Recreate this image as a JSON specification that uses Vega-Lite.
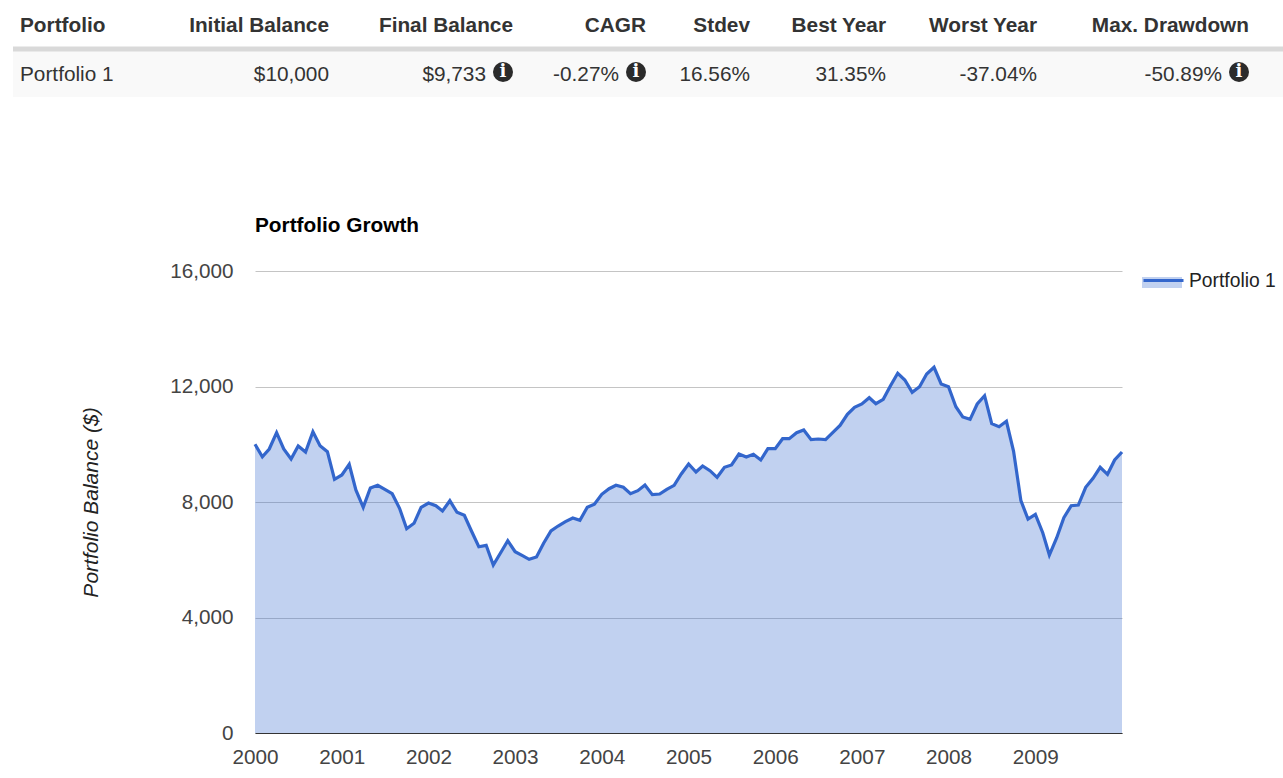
{"$schema":"https://vega.github.io/schema/vega-lite/v6.json","background":"white","padding":{"left":10,"top":0,"right":0,"bottom":0},"config":{"view":{"stroke":null},"font":"Liberation Sans"},"spacing":118,"vconcat":[{"width":1270,"height":97,"data":{"values":[{"row":"Header","col":0,"text":"Portfolio"},{"row":"Header","col":1,"text":"Initial Balance"},{"row":"Header","col":2,"text":"Final Balance"},{"row":"Header","col":3,"text":"CAGR"},{"row":"Header","col":4,"text":"Stdev"},{"row":"Header","col":5,"text":"Best Year"},{"row":"Header","col":6,"text":"Worst Year"},{"row":"Header","col":7,"text":"Max. Drawdown"},{"row":"Portfolio 1","col":0,"text":"Portfolio 1"},{"row":"Portfolio 1","col":1,"text":"$10,000"},{"row":"Portfolio 1","col":2,"text":"$9,733","note":true},{"row":"Portfolio 1","col":3,"text":"-0.27%","note":true},{"row":"Portfolio 1","col":4,"text":"16.56%"},{"row":"Portfolio 1","col":5,"text":"31.35%"},{"row":"Portfolio 1","col":6,"text":"-37.04%"},{"row":"Portfolio 1","col":7,"text":"-50.89%","note":true}]},"encoding":{"y":{"field":"row","type":"nominal","axis":null,"sort":null,"scale":{"domain":["Header","Portfolio 1"],"range":[1,97],"paddingInner":0,"paddingOuter":0}},"x":{"field":"col","type":"quantitative","axis":null,"scale":{"domain":[0,1,2,3,4,5,6,7],"range":[7,316,500,633,737,873,1024,1236]}}},"layer":[{"transform":[{"filter":"datum.row==='Portfolio 1' && datum.col===0"}],"mark":{"type":"rect","color":"#f9f9f9"},"encoding":{"x":{"value":0},"x2":{"value":1270}}},{"transform":[{"filter":"datum.row==='Portfolio 1' && datum.col===0"}],"mark":{"type":"rule","color":"#d9d9d9","strokeWidth":5},"encoding":{"y":{"field":"row","type":"nominal","bandPosition":0},"x":{"value":0},"x2":{"value":1270}}},{"transform":[{"filter":"datum.row==='Header' && datum.col>0"}],"mark":{"type":"text","fontSize":20.8,"fontWeight":"bold","color":"#333333","align":"right","dy":1},"encoding":{"text":{"field":"text"}}},{"transform":[{"filter":"datum.row==='Header' && datum.col===0"}],"mark":{"type":"text","fontSize":20.8,"fontWeight":"bold","color":"#333333","align":"left","dy":1},"encoding":{"text":{"field":"text"}}},{"transform":[{"filter":"datum.row==='Portfolio 1' && datum.col===0"}],"mark":{"type":"text","fontSize":20.8,"color":"#333333","align":"left","dy":2},"encoding":{"text":{"field":"text"}}},{"transform":[{"filter":"datum.row==='Portfolio 1' && datum.col>0 && !datum.note"}],"mark":{"type":"text","fontSize":20.8,"color":"#333333","align":"right","dy":2},"encoding":{"text":{"field":"text"}}},{"transform":[{"filter":"datum.note"}],"mark":{"type":"text","fontSize":20.8,"color":"#333333","align":"right","dy":2,"dx":-27},"encoding":{"text":{"field":"text"}}},{"transform":[{"filter":"datum.note"}],"mark":{"type":"point","shape":"circle","filled":true,"color":"#2b2b2b","opacity":1,"size":400,"xOffset":-10,"yOffset":-1}},{"transform":[{"filter":"datum.note"}],"mark":{"type":"text","text":"i","font":"DejaVu Serif","fontWeight":"bold","fontSize":18,"color":"white","dx":-10,"dy":-1}}]},{"spacing":0,"hconcat":[{"width":67,"height":10,"data":{"values":[]},"mark":{"type":"text"},"encoding":{}},{"width":867,"height":462,"title":{"text":"Portfolio Growth","anchor":"start","frame":"group","fontSize":20.8,"fontWeight":"bold","color":"#000000","offset":23},"data":{"values":[{"date":"2000-01-01T00:00:00","balance":10000,"series":"Portfolio 1"},{"date":"2000-02-01T00:00:00","balance":9569,"series":"Portfolio 1"},{"date":"2000-03-01T00:00:00","balance":9835,"series":"Portfolio 1"},{"date":"2000-04-01T00:00:00","balance":10400,"series":"Portfolio 1"},{"date":"2000-05-01T00:00:00","balance":9835,"series":"Portfolio 1"},{"date":"2000-06-01T00:00:00","balance":9489,"series":"Portfolio 1"},{"date":"2000-07-01T00:00:00","balance":9939,"series":"Portfolio 1"},{"date":"2000-08-01T00:00:00","balance":9732,"series":"Portfolio 1"},{"date":"2000-09-01T00:00:00","balance":10435,"series":"Portfolio 1"},{"date":"2000-10-01T00:00:00","balance":9950,"series":"Portfolio 1"},{"date":"2000-11-01T00:00:00","balance":9742,"series":"Portfolio 1"},{"date":"2000-12-01T00:00:00","balance":8786,"series":"Portfolio 1"},{"date":"2001-01-01T00:00:00","balance":8935,"series":"Portfolio 1"},{"date":"2001-02-01T00:00:00","balance":9306,"series":"Portfolio 1"},{"date":"2001-03-01T00:00:00","balance":8416,"series":"Portfolio 1"},{"date":"2001-04-01T00:00:00","balance":7816,"series":"Portfolio 1"},{"date":"2001-05-01T00:00:00","balance":8485,"series":"Portfolio 1"},{"date":"2001-06-01T00:00:00","balance":8578,"series":"Portfolio 1"},{"date":"2001-07-01T00:00:00","balance":8440,"series":"Portfolio 1"},{"date":"2001-08-01T00:00:00","balance":8287,"series":"Portfolio 1"},{"date":"2001-09-01T00:00:00","balance":7782,"series":"Portfolio 1"},{"date":"2001-10-01T00:00:00","balance":7075,"series":"Portfolio 1"},{"date":"2001-11-01T00:00:00","balance":7262,"series":"Portfolio 1"},{"date":"2001-12-01T00:00:00","balance":7816,"series":"Portfolio 1"},{"date":"2002-01-01T00:00:00","balance":7965,"series":"Portfolio 1"},{"date":"2002-02-01T00:00:00","balance":7872,"series":"Portfolio 1"},{"date":"2002-03-01T00:00:00","balance":7688,"series":"Portfolio 1"},{"date":"2002-04-01T00:00:00","balance":8045,"series":"Portfolio 1"},{"date":"2002-05-01T00:00:00","balance":7643,"series":"Portfolio 1"},{"date":"2002-06-01T00:00:00","balance":7539,"series":"Portfolio 1"},{"date":"2002-07-01T00:00:00","balance":6996,"series":"Portfolio 1"},{"date":"2002-08-01T00:00:00","balance":6452,"series":"Portfolio 1"},{"date":"2002-09-01T00:00:00","balance":6500,"series":"Portfolio 1"},{"date":"2002-10-01T00:00:00","balance":5818,"series":"Portfolio 1"},{"date":"2002-11-01T00:00:00","balance":6244,"series":"Portfolio 1"},{"date":"2002-12-01T00:00:00","balance":6660,"series":"Portfolio 1"},{"date":"2003-01-01T00:00:00","balance":6279,"series":"Portfolio 1"},{"date":"2003-02-01T00:00:00","balance":6140,"series":"Portfolio 1"},{"date":"2003-03-01T00:00:00","balance":6016,"series":"Portfolio 1"},{"date":"2003-04-01T00:00:00","balance":6095,"series":"Portfolio 1"},{"date":"2003-05-01T00:00:00","balance":6570,"series":"Portfolio 1"},{"date":"2003-06-01T00:00:00","balance":7000,"series":"Portfolio 1"},{"date":"2003-07-01T00:00:00","balance":7169,"series":"Portfolio 1"},{"date":"2003-08-01T00:00:00","balance":7318,"series":"Portfolio 1"},{"date":"2003-09-01T00:00:00","balance":7446,"series":"Portfolio 1"},{"date":"2003-10-01T00:00:00","balance":7366,"series":"Portfolio 1"},{"date":"2003-11-01T00:00:00","balance":7816,"series":"Portfolio 1"},{"date":"2003-12-01T00:00:00","balance":7920,"series":"Portfolio 1"},{"date":"2004-01-01T00:00:00","balance":8267,"series":"Portfolio 1"},{"date":"2004-02-01T00:00:00","balance":8461,"series":"Portfolio 1"},{"date":"2004-03-01T00:00:00","balance":8578,"series":"Portfolio 1"},{"date":"2004-04-01T00:00:00","balance":8509,"series":"Portfolio 1"},{"date":"2004-05-01T00:00:00","balance":8287,"series":"Portfolio 1"},{"date":"2004-06-01T00:00:00","balance":8391,"series":"Portfolio 1"},{"date":"2004-07-01T00:00:00","balance":8589,"series":"Portfolio 1"},{"date":"2004-08-01T00:00:00","balance":8253,"series":"Portfolio 1"},{"date":"2004-09-01T00:00:00","balance":8277,"series":"Portfolio 1"},{"date":"2004-10-01T00:00:00","balance":8440,"series":"Portfolio 1"},{"date":"2004-11-01T00:00:00","balance":8578,"series":"Portfolio 1"},{"date":"2004-12-01T00:00:00","balance":8970,"series":"Portfolio 1"},{"date":"2005-01-01T00:00:00","balance":9316,"series":"Portfolio 1"},{"date":"2005-02-01T00:00:00","balance":9039,"series":"Portfolio 1"},{"date":"2005-03-01T00:00:00","balance":9247,"series":"Portfolio 1"},{"date":"2005-04-01T00:00:00","balance":9084,"series":"Portfolio 1"},{"date":"2005-05-01T00:00:00","balance":8855,"series":"Portfolio 1"},{"date":"2005-06-01T00:00:00","balance":9202,"series":"Portfolio 1"},{"date":"2005-07-01T00:00:00","balance":9281,"series":"Portfolio 1"},{"date":"2005-08-01T00:00:00","balance":9662,"series":"Portfolio 1"},{"date":"2005-09-01T00:00:00","balance":9558,"series":"Portfolio 1"},{"date":"2005-10-01T00:00:00","balance":9652,"series":"Portfolio 1"},{"date":"2005-11-01T00:00:00","balance":9455,"series":"Portfolio 1"},{"date":"2005-12-01T00:00:00","balance":9846,"series":"Portfolio 1"},{"date":"2006-01-01T00:00:00","balance":9846,"series":"Portfolio 1"},{"date":"2006-02-01T00:00:00","balance":10192,"series":"Portfolio 1"},{"date":"2006-03-01T00:00:00","balance":10192,"series":"Portfolio 1"},{"date":"2006-04-01T00:00:00","balance":10400,"series":"Portfolio 1"},{"date":"2006-05-01T00:00:00","balance":10493,"series":"Portfolio 1"},{"date":"2006-06-01T00:00:00","balance":10158,"series":"Portfolio 1"},{"date":"2006-07-01T00:00:00","balance":10182,"series":"Portfolio 1"},{"date":"2006-08-01T00:00:00","balance":10158,"series":"Portfolio 1"},{"date":"2006-09-01T00:00:00","balance":10414,"series":"Portfolio 1"},{"date":"2006-10-01T00:00:00","balance":10653,"series":"Portfolio 1"},{"date":"2006-11-01T00:00:00","balance":11037,"series":"Portfolio 1"},{"date":"2006-12-01T00:00:00","balance":11280,"series":"Portfolio 1"},{"date":"2007-01-01T00:00:00","balance":11394,"series":"Portfolio 1"},{"date":"2007-02-01T00:00:00","balance":11612,"series":"Portfolio 1"},{"date":"2007-03-01T00:00:00","balance":11404,"series":"Portfolio 1"},{"date":"2007-04-01T00:00:00","balance":11557,"series":"Portfolio 1"},{"date":"2007-05-01T00:00:00","balance":12017,"series":"Portfolio 1"},{"date":"2007-06-01T00:00:00","balance":12457,"series":"Portfolio 1"},{"date":"2007-07-01T00:00:00","balance":12225,"series":"Portfolio 1"},{"date":"2007-08-01T00:00:00","balance":11799,"series":"Portfolio 1"},{"date":"2007-09-01T00:00:00","balance":11993,"series":"Portfolio 1"},{"date":"2007-10-01T00:00:00","balance":12433,"series":"Portfolio 1"},{"date":"2007-11-01T00:00:00","balance":12665,"series":"Portfolio 1"},{"date":"2007-12-01T00:00:00","balance":12087,"series":"Portfolio 1"},{"date":"2008-01-01T00:00:00","balance":11993,"series":"Portfolio 1"},{"date":"2008-02-01T00:00:00","balance":11300,"series":"Portfolio 1"},{"date":"2008-03-01T00:00:00","balance":10944,"series":"Portfolio 1"},{"date":"2008-04-01T00:00:00","balance":10864,"series":"Portfolio 1"},{"date":"2008-05-01T00:00:00","balance":11394,"series":"Portfolio 1"},{"date":"2008-06-01T00:00:00","balance":11681,"series":"Portfolio 1"},{"date":"2008-07-01T00:00:00","balance":10712,"series":"Portfolio 1"},{"date":"2008-08-01T00:00:00","balance":10608,"series":"Portfolio 1"},{"date":"2008-09-01T00:00:00","balance":10795,"series":"Portfolio 1"},{"date":"2008-10-01T00:00:00","balance":9766,"series":"Portfolio 1"},{"date":"2008-11-01T00:00:00","balance":8045,"series":"Portfolio 1"},{"date":"2008-12-01T00:00:00","balance":7411,"series":"Portfolio 1"},{"date":"2009-01-01T00:00:00","balance":7574,"series":"Portfolio 1"},{"date":"2009-02-01T00:00:00","balance":6937,"series":"Portfolio 1"},{"date":"2009-03-01T00:00:00","balance":6164,"series":"Portfolio 1"},{"date":"2009-04-01T00:00:00","balance":6764,"series":"Portfolio 1"},{"date":"2009-05-01T00:00:00","balance":7456,"series":"Portfolio 1"},{"date":"2009-06-01T00:00:00","balance":7872,"series":"Portfolio 1"},{"date":"2009-07-01T00:00:00","balance":7896,"series":"Portfolio 1"},{"date":"2009-08-01T00:00:00","balance":8509,"series":"Portfolio 1"},{"date":"2009-09-01T00:00:00","balance":8821,"series":"Portfolio 1"},{"date":"2009-10-01T00:00:00","balance":9202,"series":"Portfolio 1"},{"date":"2009-11-01T00:00:00","balance":8959,"series":"Portfolio 1"},{"date":"2009-12-01T00:00:00","balance":9455,"series":"Portfolio 1"},{"date":"2010-01-01T00:00:00","balance":9733,"series":"Portfolio 1"}]},"encoding":{"x":{"field":"date","type":"temporal","title":null,"scale":{"domain":[{"year":2000,"month":1,"date":1},{"year":2010,"month":1,"date":1}]},"axis":{"values":[{"year":2000,"month":1,"date":1},{"year":2001,"month":1,"date":1},{"year":2002,"month":1,"date":1},{"year":2003,"month":1,"date":1},{"year":2004,"month":1,"date":1},{"year":2005,"month":1,"date":1},{"year":2006,"month":1,"date":1},{"year":2007,"month":1,"date":1},{"year":2008,"month":1,"date":1},{"year":2009,"month":1,"date":1}],"format":"%Y","ticks":false,"grid":false,"domain":true,"domainColor":"#333333","labelFontSize":20.7,"labelColor":"#444444","labelPadding":14,"labelFlush":false,"labelOverlap":false}},"y":{"field":"balance","type":"quantitative","title":"Portfolio Balance ($)","scale":{"domain":[0,16000]},"axis":{"values":[0,4000,8000,12000,16000],"format":",.0f","ticks":false,"domain":false,"grid":true,"gridColor":"#c4c4c4","labelFontSize":20.7,"labelColor":"#444444","labelPadding":22,"titleFontSize":21,"titleFontStyle":"italic","titleFontWeight":"normal","titleColor":"#222222","titlePadding":68}}},"layer":[{"mark":{"type":"area","fillOpacity":0.3},"encoding":{"fill":{"field":"series","type":"nominal","scale":{"range":["#3366cc"]},"legend":{"title":null,"orient":"none","legendX":1129,"legendY":259,"symbolType":"M-1,-0.1H1V0.45H-1Z","symbolSize":1600,"symbolStrokeWidth":0,"symbolOpacity":0.3,"labelExpr":"''","labelFontSize":19.3}}}},{"mark":{"type":"line","strokeWidth":3.2},"encoding":{"stroke":{"field":"series","type":"nominal","scale":{"range":["#3366cc"]},"legend":{"title":null,"orient":"none","legendX":1129,"legendY":259,"symbolType":"M-1,0H1","symbolSize":1600,"symbolStrokeWidth":3,"labelFontSize":19.3,"labelColor":"#222222"}}}}]}]}]}
